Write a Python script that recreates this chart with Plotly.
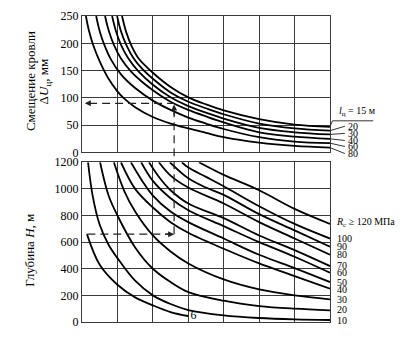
import plotly.graph_objects as go

# ---------------- data (X in grid-cell units 0..7) ----------------
top_names = ["15", "20", "30", "40", "60", "80"]
top_x_15 = [1.13, 1.25, 1.4, 1.6, 2.0, 2.5, 3.0, 3.5, 4.0, 5.0, 6.0, 7.0]
top_v_15 = [250, 220, 195, 172, 146, 120, 101, 88, 77, 61, 51, 47]
top_x_20 = [0.99, 1.1, 1.25, 1.45, 1.7, 2.0, 2.5, 3.0, 3.5, 4.0, 5.0, 6.0, 7.0]
top_v_20 = [250, 222, 197, 173, 153, 135, 110, 93, 81, 70, 53, 44, 40]
top_x_30 = [0.85, 0.96, 1.1, 1.3, 1.6, 2.0, 2.5, 3.0, 3.5, 4.0, 5.0, 6.0, 7.0]
top_v_30 = [250, 222, 197, 173, 148, 124, 101, 85, 73, 62, 45, 37, 33]
top_x_40 = [0.65, 0.76, 0.9, 1.1, 1.4, 1.7, 2.0, 2.5, 3.0, 3.5, 4.0, 5.0, 6.0, 7.0]
top_v_40 = [250, 222, 197, 172, 147, 129, 114, 93, 78, 66, 55, 37, 29, 25]
top_x_60 = [0.40, 0.5, 0.63, 0.82, 1.1, 1.5, 2.0, 2.5, 3.0, 3.5, 4.0, 5.0, 6.0, 7.0]
top_v_60 = [250, 222, 197, 170, 143, 118, 95, 78, 64, 53, 43, 28, 20, 17]
top_x_80 = [0.11, 0.2, 0.32, 0.5, 0.75, 1.0, 1.17, 1.5, 2.0, 2.5, 3.0, 3.5, 4.0, 5.0, 6.0, 7.0]
top_v_80 = [250, 222, 196, 167, 135, 112, 100, 83, 65, 53, 44, 36, 28, 18, 12, 9]

bot_names = ["6", "10", "20", "30", "40", "50", "60", "70", "80", "90", "100", "120"]
bot_x_6 = [0.14, 0.5, 1.0, 1.5, 2.0, 2.5, 3.0]
bot_h_6 = [660, 430, 280, 185, 125, 75, 45]
bot_x_10 = [0.17, 0.3, 0.5, 0.75, 1.0, 1.5, 2.0, 2.5, 3.0, 4.0, 5.0, 6.0, 7.0]
bot_h_10 = [1200, 950, 730, 580, 480, 310, 200, 135, 90, 50, 30, 20, 15]
bot_x_20 = [0.51, 0.75, 1.0, 1.5, 2.0, 2.5, 3.0, 4.0, 5.0, 6.0, 7.0]
bot_h_20 = [1200, 950, 800, 560, 400, 300, 225, 160, 120, 100, 88]
bot_x_30 = [0.9, 1.2, 1.5, 2.0, 2.5, 3.0, 4.0, 5.0, 6.0, 7.0]
bot_h_30 = [1200, 980, 830, 650, 530, 440, 320, 245, 200, 170]
bot_x_40 = [1.1, 1.5, 2.0, 2.5, 3.0, 4.0, 5.0, 6.0, 7.0]
bot_h_40 = [1200, 1000, 860, 750, 670, 550, 440, 345, 250]
bot_x_50 = [1.38, 1.7, 2.0, 2.5, 3.0, 4.0, 5.0, 6.0, 7.0]
bot_h_50 = [1200, 1060, 950, 830, 750, 627, 505, 405, 300]
bot_x_60 = [1.67, 2.0, 2.5, 3.0, 4.0, 5.0, 6.0, 7.0]
bot_h_60 = [1200, 1060, 930, 840, 720, 600, 490, 370]
bot_x_70 = [1.89, 2.2, 2.5, 3.0, 4.0, 5.0, 6.0, 7.0]
bot_h_70 = [1200, 1080, 990, 890, 780, 650, 540, 420]
bot_x_80 = [2.17, 2.5, 3.0, 4.0, 5.0, 6.0, 7.0]
bot_h_80 = [1200, 1100, 1010, 890, 750, 627, 505]
bot_x_90 = [2.48, 3.0, 3.5, 4.0, 5.0, 6.0, 7.0]
bot_h_90 = [1200, 1080, 1010, 955, 810, 688, 566]
bot_x_100 = [2.82, 3.0, 3.5, 4.0, 5.0, 6.0, 7.0]
bot_h_100 = [1200, 1160, 1090, 1020, 870, 737, 627]
bot_x_120 = [3.3, 4.0, 5.0, 6.0, 7.0]
bot_h_120 = [1200, 1105, 990, 850, 737]

# right-hand labels
top_label_text = ["20", "30", "40", "60", "80"]
top_label_v = [48, 35, 22, 11, -2]
bot_label_text = ["100", "90", "80", "70", "60", "50", "40", "30", "20", "10"]
bot_label_h = [627, 566, 505, 424, 373, 300, 245, 168, 95, 10]

# worked example (dashed guide)
guide_x = 2.6
guide_u = 90
guide_h = 660

yticks_top = [0, 50, 100, 150, 200, 250]
yticks_bot = [0, 200, 400, 600, 800, 1000, 1200]

# ---------------- figure ----------------
FONT = "Liberation Serif"
GRID = "#3a3a3a"
top_dom = [0.554, 1.0]
bot_dom = [0.0, 0.522]
XMAX, UMAX, HMAX = 7.0, 250.0, 1200.0


def px(x):
    return x / XMAX


def py_top(v):
    return top_dom[0] + (top_dom[1] - top_dom[0]) * v / UMAX


def py_bot(h):
    return bot_dom[0] + (bot_dom[1] - bot_dom[0]) * h / HMAX


fig = go.Figure()

top_sets = [(top_x_15, top_v_15), (top_x_20, top_v_20), (top_x_30, top_v_30),
            (top_x_40, top_v_40), (top_x_60, top_v_60), (top_x_80, top_v_80)]
for name, (xs, vs) in zip(top_names, top_sets):
    fig.add_trace(go.Scatter(x=xs, y=vs, mode="lines", name=name,
                             line=dict(color="black", width=1.8, shape="spline", smoothing=1.0),
                             xaxis="x", yaxis="y", showlegend=False, hoverinfo="skip"))

bot_sets = [(bot_x_6, bot_h_6), (bot_x_10, bot_h_10), (bot_x_20, bot_h_20), (bot_x_30, bot_h_30),
            (bot_x_40, bot_h_40), (bot_x_50, bot_h_50), (bot_x_60, bot_h_60), (bot_x_70, bot_h_70),
            (bot_x_80, bot_h_80), (bot_x_90, bot_h_90), (bot_x_100, bot_h_100), (bot_x_120, bot_h_120)]
for name, (xs, hs) in zip(bot_names, bot_sets):
    fig.add_trace(go.Scatter(x=xs, y=hs, mode="lines", name=name,
                             line=dict(color="black", width=1.8, shape="spline", smoothing=1.0),
                             xaxis="x2", yaxis="y2", showlegend=False, hoverinfo="skip"))

# label "6" at the end of the shortest curve
fig.add_trace(go.Scatter(x=[bot_x_6[-1] + 0.06], y=[bot_h_6[-1]], mode="text", text=["6"],
                         textposition="middle right",
                         textfont=dict(family=FONT, size=12, color="black"),
                         xaxis="x2", yaxis="y2", showlegend=False, hoverinfo="skip",
                         cliponaxis=False))

dash = dict(color="#222", width=1.2, dash="8px,5px")
fig.add_trace(go.Scatter(x=[0.2, guide_x], y=[guide_u, guide_u], mode="lines", line=dash,
                         xaxis="x", yaxis="y", showlegend=False, hoverinfo="skip"))
fig.add_trace(go.Scatter(x=[0.15, guide_x - 0.12], y=[guide_h, guide_h], mode="lines", line=dash,
                         xaxis="x2", yaxis="y2", showlegend=False, hoverinfo="skip"))
fig.add_shape(type="line", xref="paper", yref="paper", x0=px(guide_x), x1=px(guide_x),
              y0=py_bot(guide_h), y1=py_top(guide_u) - 0.02, line=dash)

arrow = dict(showarrow=True, arrowhead=2, arrowsize=1, arrowwidth=1.2, arrowcolor="#222", text="")
fig.add_annotation(x=0.08, y=guide_u, ax=0.3, ay=guide_u, xref="x", yref="y", axref="x", ayref="y", **arrow)
fig.add_annotation(x=guide_x, y=guide_h, ax=guide_x - 0.3, ay=guide_h, xref="x2", yref="y2",
                   axref="x2", ayref="y2", **arrow)
fig.add_annotation(x=guide_x, y=guide_u - 2, ax=guide_x, ay=guide_u - 25, xref="x", yref="y",
                   axref="x", ayref="y", **arrow)

lab_font = dict(family=FONT, size=10, color="black")
lead = dict(color="#333", width=1)
# top right labels
fig.add_annotation(x=px(7.2), y=py_top(59), xref="paper", yref="paper",
                   text="<i>l</i><sub>ц</sub> = 15 м", showarrow=False,
                   xanchor="left", yanchor="bottom", font=lab_font)
fig.add_shape(type="line", xref="paper", yref="paper", x0=px(7.07), x1=px(8.22),
              y0=py_top(58), y1=py_top(58), line=lead)
fig.add_shape(type="line", xref="paper", yref="paper", x0=px(7.0), x1=px(7.07),
              y0=py_top(top_v_15[-1]), y1=py_top(58), line=lead)
top_ends = [top_v_20[-1], top_v_30[-1], top_v_40[-1], top_v_60[-1], top_v_80[-1]]
for t, v, ve in zip(top_label_text, top_label_v, top_ends):
    fig.add_annotation(x=px(7.45), y=py_top(v), xref="paper", yref="paper", text=t, showarrow=False,
                       xanchor="left", yanchor="middle", font=lab_font)
    fig.add_shape(type="line", xref="paper", yref="paper", x0=px(7.0), x1=px(7.42),
                  y0=py_top(ve), y1=py_top(v), line=lead)

# bottom right labels
fig.add_annotation(x=px(7.12), y=py_bot(745), xref="paper", yref="paper",
                   text="<i>R</i><sub>c</sub> ≥ 120 МПа",
                   showarrow=False, xanchor="left", yanchor="middle", font=lab_font)
for t, h in zip(bot_label_text, bot_label_h):
    fig.add_annotation(x=px(7.15), y=py_bot(h), xref="paper", yref="paper", text=t, showarrow=False,
                       xanchor="left", yanchor="middle", font=lab_font)

# axis titles
title_font = dict(family=FONT, size=13, color="black")
fig.add_annotation(x=-0.21, y=0.787, xref="paper", yref="paper", text="Смещение кровли",
                   textangle=-90, showarrow=False, font=title_font, xanchor="center", yanchor="middle")
fig.add_annotation(x=-0.152, y=0.787, xref="paper", yref="paper", text="Δ<i>U</i><sub>ц</sub>, мм",
                   textangle=-90, showarrow=False, font=title_font, xanchor="center", yanchor="middle")
fig.add_annotation(x=-0.215, y=0.235, xref="paper", yref="paper", text="Глубина <i>H</i>, м",
                   textangle=-90, showarrow=False, font=title_font, xanchor="center", yanchor="middle")

xcommon = dict(range=[0, XMAX], dtick=1, tick0=0, showticklabels=False, showgrid=True,
               gridcolor=GRID, gridwidth=1.2, showline=True, linecolor=GRID, linewidth=1.4,
               mirror=True, zeroline=False, ticks="", fixedrange=True)
ycommon = dict(showgrid=True, gridcolor=GRID, gridwidth=1.2, showline=True, linecolor=GRID,
               linewidth=1.4, mirror=True, zeroline=False, ticks="",
               tickfont=dict(family=FONT, size=12, color="black"), fixedrange=True)

fig.update_layout(
    width=402, height=338,
    margin=dict(l=82, r=72, t=15, b=9),
    paper_bgcolor="white", plot_bgcolor="white",
    showlegend=False,
    xaxis=dict(domain=[0, 1], anchor="y", **xcommon),
    xaxis2=dict(domain=[0, 1], anchor="y2", **xcommon),
    yaxis=dict(domain=top_dom, anchor="x", range=[0, UMAX], tickvals=yticks_top, **ycommon),
    yaxis2=dict(domain=bot_dom, anchor="x2", range=[0, HMAX], tickvals=yticks_bot, **ycommon),
)

fig.write_html("out.html")
